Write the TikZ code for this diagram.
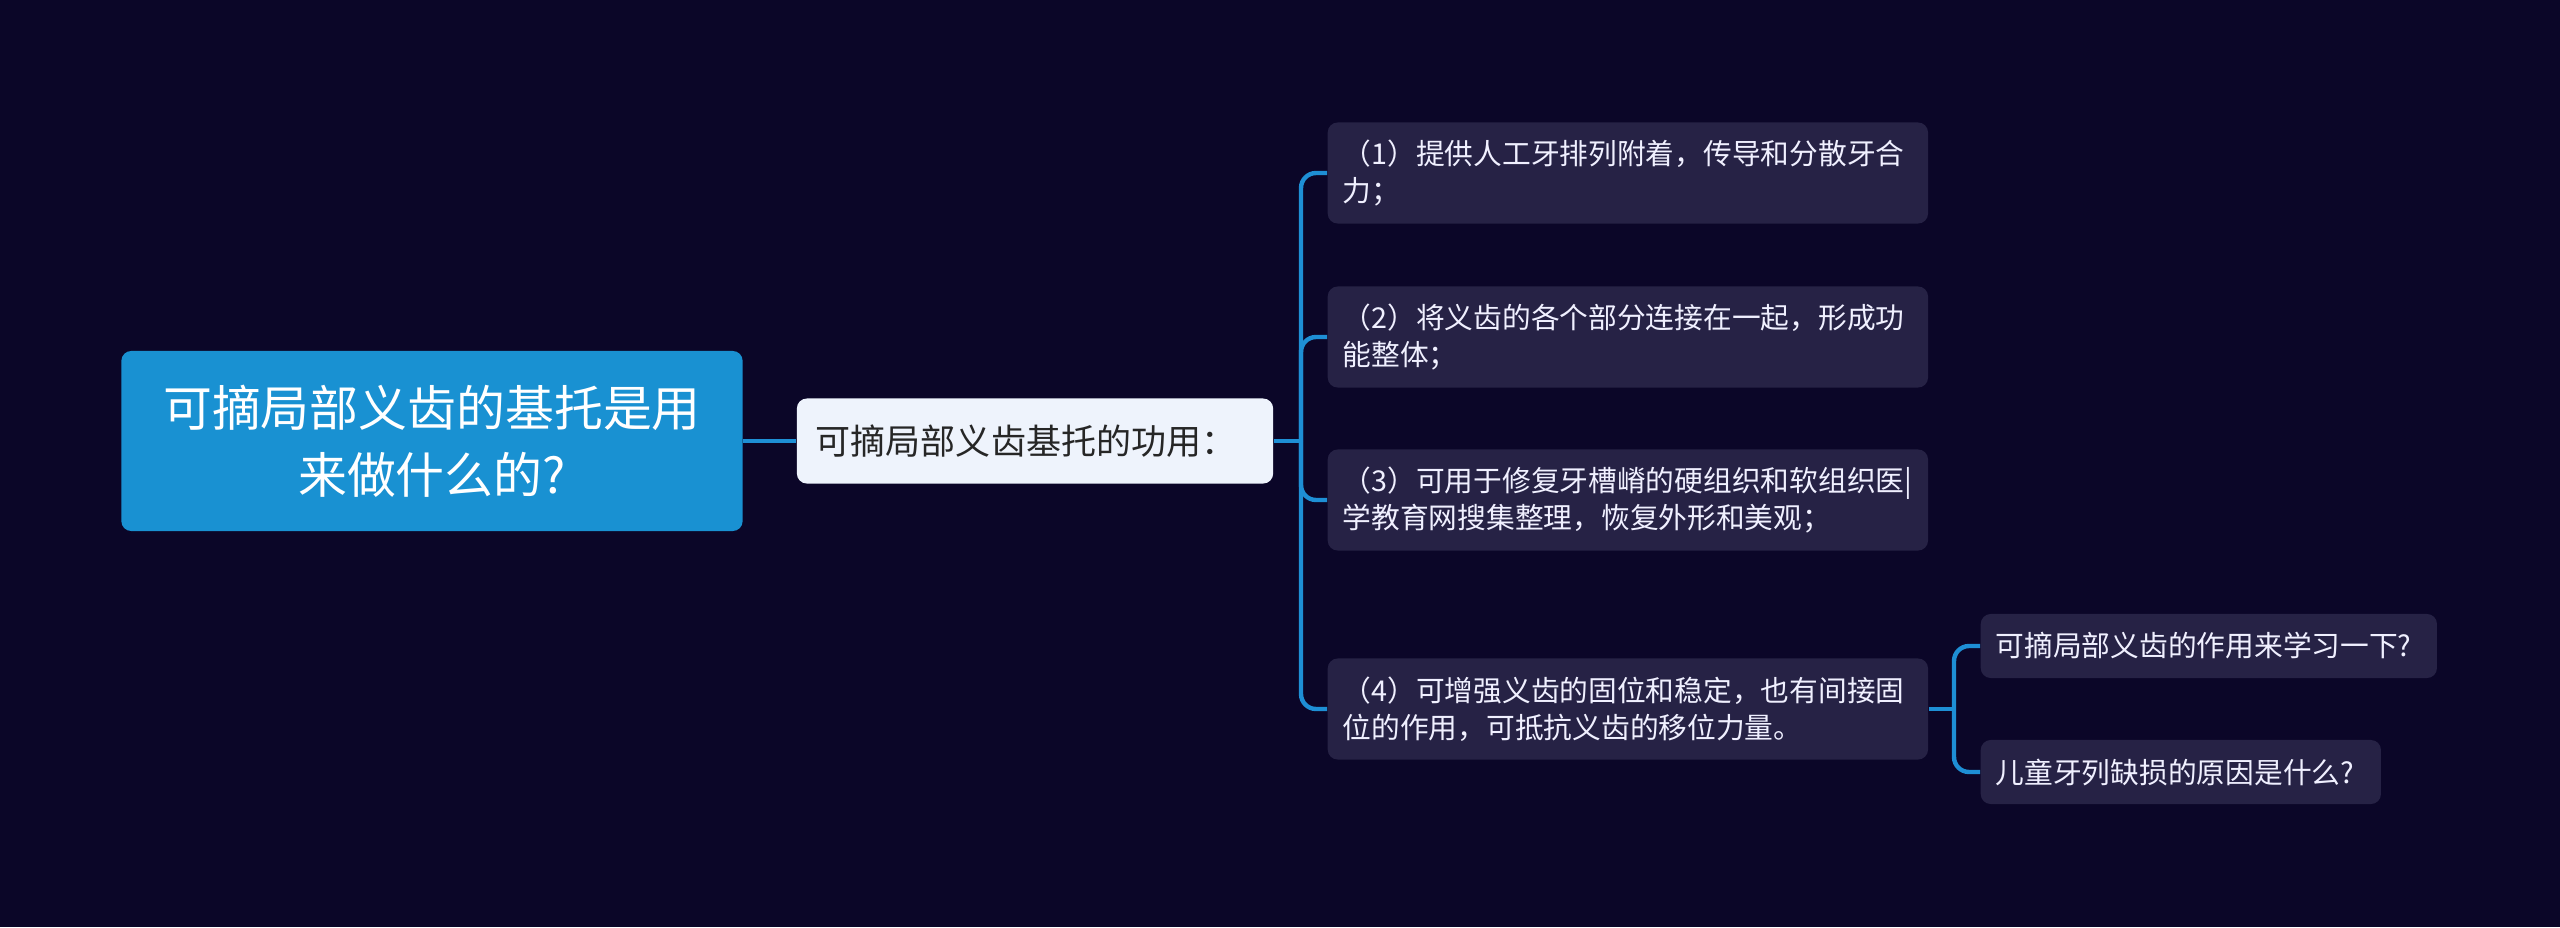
\documentclass[tikz,border=0pt]{standalone}
\usepackage{fontspec}
\setmainfont{Noto Sans CJK SC}
\usepackage{tikz}

\definecolor{bgnavy}{HTML}{0B0628}
\definecolor{rootblue}{HTML}{1991D2}
\definecolor{subwhite}{HTML}{EEF3FC}
\definecolor{leafpurple}{HTML}{262245}
\definecolor{linkblue}{HTML}{1E8FD5}

\tikzset{
    rootbox/.style={fill=rootblue, rounded corners=0.1cm, text=white, minimum width=6.21cm, minimum height=1.8cm, text width=5.9cm, align=center, font=\fontsize{13.9}{19}\selectfont},
    subbox/.style={fill=subwhite, rounded corners=0.1cm, text=black!85, minimum height=0.85cm, inner xsep=0.19cm, text width=4.38cm, align=left, font=\fontsize{9.96}{12}\selectfont},
    leafbox/.style={anchor=west, fill=leafpurple, rounded corners=0.1cm, text=white!94!blue, minimum height=1.01cm, inner xsep=0.15cm, text width=5.7cm, align=left, font=\fontsize{8.17}{10.5}\selectfont},
    link/.style={draw=linkblue, line width=1.25pt}
}

\begin{document}
\begin{tikzpicture}[x=0.01cm, y=-0.01cm]
    % background
    \fill[bgnavy] (0,0) rectangle (2560,927);

    % root and its function node
    \node[rootbox] (root) at (432,441) {可摘局部义齿的基托是用\\来做什么的?\hspace{0.3em}};
    \node[subbox] (sub) at (1035,441) {可摘局部义齿基托的功用：};

    % four uses
    \node[leafbox] (c1) at (1327,173) {（1）提供人工牙排列附着，传导和分散牙合\\力；};
    \node[leafbox] (c2) at (1327,337) {（2）将义齿的各个部分连接在一起，形成功\\能整体；};
    \node[leafbox] (c3) at (1327,500) {（3）可用于修复牙槽嵴的硬组织和软组织医|\\学教育网搜集整理，恢复外形和美观；};
    \node[leafbox] (c4) at (1327,709) {（4）可增强义齿的固位和稳定，也有间接固\\位的作用，可抵抗义齿的移位力量。};

    % related questions
    \node[leafbox, minimum height=0.64cm, text width=4.26cm] (g1) at (1980,646) {可摘局部义齿的作用来学习一下?};
    \node[leafbox, minimum height=0.64cm, text width=3.7cm] (g2) at (1980,772) {儿童牙列缺损的原因是什么?};

    % connectors
    \draw[link] (root.east) -- (sub.west);
    \coordinate (hubA) at (1301,441);
    \draw[link] (sub.east) -- (hubA);
    \foreach \c in {c1,c2,c3,c4}
        \draw[link, rounded corners=0.15cm] (hubA) |- (\c.west);
    \coordinate (hubB) at (1954,709);
    \draw[link] (c4.east) -- (hubB);
    \foreach \g in {g1,g2}
        \draw[link, rounded corners=0.15cm] (hubB) |- (\g.west);
\end{tikzpicture}
\end{document}
